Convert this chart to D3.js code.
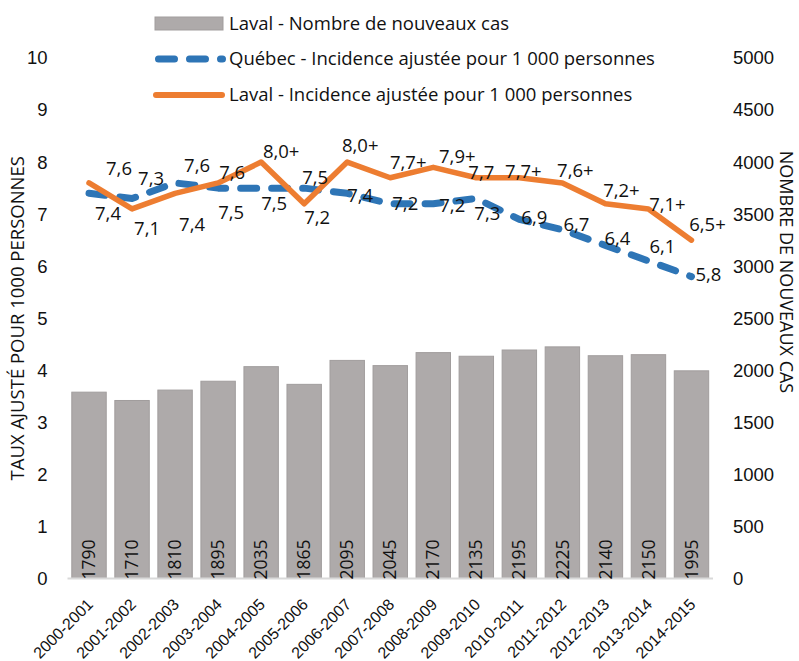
<!DOCTYPE html>
<html>
<head>
<meta charset="utf-8">
<script src="https://cdn.jsdelivr.net/npm/d3@7"></script>
<style>
  body { margin: 0; background: #fff; }
  svg { display: block; font-family: "Open Sans", "Noto Sans", sans-serif; }
  .tick text, .lbl, .title, .legend text { fill: #111; font-size: 18.5px; }
  .x-axis .tick text { font-size: 16px; }
  .bar-lbl { fill: #111; font-size: 17.5px; }
  .title.right { font-size: 18px; }
</style>
</head>
<body>
<div id="chart"></div>
<script>
// Laval new cases (bars, right axis) + adjusted incidence rates (lines, left axis)

const periods = ["2000-2001", "2001-2002", "2002-2003", "2003-2004", "2004-2005", "2005-2006",
  "2006-2007", "2007-2008", "2008-2009", "2009-2010", "2010-2011", "2011-2012",
  "2012-2013", "2013-2014", "2014-2015"];
const lavalCases = [1790, 1710, 1810, 1895, 2035, 1865, 2095, 2045, 2170, 2135, 2195, 2225, 2140, 2150, 1995];
const quebecRate = [7.4, 7.3, 7.6, 7.5, 7.5, 7.5, 7.4, 7.2, 7.2, 7.3, 6.9, 6.7, 6.4, 6.1, 5.8];
const lavalRate = [7.6, 7.1, 7.4, 7.6, 8.0, 7.2, 8.0, 7.7, 7.9, 7.7, 7.7, 7.6, 7.2, 7.1, 6.5];
const lavalPlus = [false, false, false, false, true, false, true, true, true, false, true, true, true, true, true];
const rateTicks = [0, 1, 2, 3, 4, 5, 6, 7, 8, 9, 10];
const caseTicks = [0, 500, 1000, 1500, 2000, 2500, 3000, 3500, 4000, 4500, 5000];

// label nudges (px) relative to each point, as placed in the original
const quebecNudge = [[19, 20], [19, -20], [22, -17], [13, 24], [13, 15], [11, -11], [13, 2], [15, 0],
  [19, 2], [11, 15], [15, -2], [14, -5], [12, -7], [14, -14], [17, -2]];
const lavalNudge = [[30, -14], [15, 20], [17, 31], [14, -10], [20, -11], [13, 14], [13, -17], [18, -15],
  [24, -11], [5, -5], [4, -6], [13, -12], [16, -13], [19, -4], [16, -16]];

const width = 799,
  height = 661,
  margin = ({ top: 58, right: 86, bottom: 82.5, left: 67.5 });

const svg = d3.select("#chart")
  .append("svg")
  .attr("width", width)
  .attr("height", height)
  .attr("viewBox", [0, 0, width, height]);

const fmt = v => d3.format(".1f")(v).replace(".", ",");

let x = d3.scaleBand()
  .domain(periods)
  .range([margin.left, width - margin.right])
  .paddingInner(0.2)
  .paddingOuter(0.1);

let yRate = d3.scaleLinear()
  .domain([0, 10])
  .range([height - margin.bottom, margin.top]);

let yCases = d3.scaleLinear()
  .domain([0, 5000])
  .range([height - margin.bottom, margin.top]);

// bars
svg.append("g")
  .selectAll("rect")
  .data(lavalCases)
  .join("rect")
  .attr("x", (d, i) => x(periods[i]))
  .attr("y", d => yCases(d))
  .attr("width", x.bandwidth())
  .attr("height", d => yCases(0) - yCases(d))
  .attr("fill", "#AEAAAA")
  .attr("stroke", "#A19D9D")
  .attr("stroke-width", 1);

// baseline
svg.append("line")
  .attr("x1", margin.left).attr("x2", width - margin.right)
  .attr("y1", yCases(0)).attr("y2", yCases(0))
  .attr("stroke", "#D9D9D9")
  .attr("stroke-width", 2);

// bar value labels (vertical, at the base)
svg.append("g")
  .selectAll("text")
  .data(lavalCases)
  .join("text")
  .attr("class", "bar-lbl")
  .attr("transform", (d, i) => `translate(${x(periods[i]) + x.bandwidth() / 2},${yCases(0) + 1}) rotate(-90)`)
  .attr("dy", "0.35em")
  .text(d => d);

// axes
svg.append("g")
  .attr("transform", `translate(${margin.left},0)`)
  .call(d3.axisLeft(yRate).tickValues(rateTicks).tickSize(0).tickPadding(20))
  .call(g => g.select(".domain").remove());

svg.append("g")
  .attr("transform", `translate(${width - margin.right},0)`)
  .call(d3.axisRight(yCases).tickValues(caseTicks).tickFormat(d3.format("d")).tickSize(0).tickPadding(20))
  .call(g => g.select(".domain").remove());

svg.append("g")
  .attr("class", "x-axis")
  .attr("transform", `translate(0,${height - margin.bottom})`)
  .call(d3.axisBottom(x).tickSize(0).tickPadding(0))
  .call(g => g.select(".domain").remove())
  .call(g => g.selectAll("text")
    .attr("text-anchor", "end")
    .attr("y", 0)
    .attr("dy", "0.35em")
    .attr("transform", "translate(1,23) rotate(-45)"));

svg.selectAll(".tick text").attr("font-family", null).attr("font-size", null);

// axis titles
svg.append("text")
  .attr("class", "title")
  .attr("text-anchor", "middle")
  .attr("transform", `translate(18,${(margin.top + height - margin.bottom) / 2}) rotate(-90)`)
  .attr("dy", "0.35em")
  .text("TAUX AJUSTÉ POUR 1000 PERSONNES");

svg.append("text")
  .attr("class", "title right")
  .attr("text-anchor", "middle")
  .attr("transform", `translate(786,272) rotate(90)`)
  .attr("dy", "0.35em")
  .text("NOMBRE DE NOUVEAUX CAS");

// lines
let cx = i => x(periods[i]) + x.bandwidth() / 2;

let rateLine = d3.line()
  .x((d, i) => cx(i))
  .y(d => yRate(d));

svg.append("path")
  .datum(quebecRate)
  .attr("d", rateLine)
  .attr("fill", "none")
  .attr("stroke", "#2E75B6")
  .attr("stroke-width", 7)
  .attr("stroke-linecap", "round")
  .attr("stroke-linejoin", "round")
  .attr("stroke-dasharray", "16 15");

svg.append("path")
  .datum(lavalRate)
  .attr("d", rateLine)
  .attr("fill", "none")
  .attr("stroke", "#ED7D31")
  .attr("stroke-width", 5.5)
  .attr("stroke-linecap", "round")
  .attr("stroke-linejoin", "round");

// line labels
svg.append("g")
  .selectAll("text")
  .data(quebecRate)
  .join("text")
  .attr("class", "lbl")
  .attr("text-anchor", "middle")
  .attr("x", (d, i) => cx(i) + quebecNudge[i][0])
  .attr("y", (d, i) => yRate(d) + quebecNudge[i][1])
  .attr("dy", "0.35em")
  .text(d => fmt(d));

svg.append("g")
  .selectAll("text")
  .data(lavalRate)
  .join("text")
  .attr("class", "lbl")
  .attr("text-anchor", "middle")
  .attr("x", (d, i) => cx(i) + lavalNudge[i][0])
  .attr("y", (d, i) => yRate(d) + lavalNudge[i][1])
  .attr("dy", "0.35em")
  .text((d, i) => fmt(d) + (lavalPlus[i] ? "+" : ""));

// legend
const legend = svg.append("g").attr("class", "legend");
const legendRows = [
  "Laval - Nombre de nouveaux cas",
  "Québec - Incidence ajustée pour 1 000 personnes",
  "Laval - Incidence ajustée pour 1 000 personnes"
];
const rowY = [23.5, 59, 95];

legend.append("rect")
  .attr("x", 155).attr("y", rowY[0] - 6.5)
  .attr("width", 68).attr("height", 13)
  .attr("fill", "#AEAAAA").attr("stroke", "#A19D9D");

legend.append("line")
  .attr("x1", 158.5).attr("x2", 222.5)
  .attr("y1", rowY[1]).attr("y2", rowY[1])
  .attr("stroke", "#2E75B6").attr("stroke-width", 7)
  .attr("stroke-linecap", "round").attr("stroke-dasharray", "16 15");

legend.append("line")
  .attr("x1", 156).attr("x2", 222)
  .attr("y1", rowY[2]).attr("y2", rowY[2])
  .attr("stroke", "#ED7D31").attr("stroke-width", 6)
  .attr("stroke-linecap", "round");

legend.selectAll("text")
  .data(legendRows)
  .join("text")
  .attr("x", 229)
  .attr("y", (d, i) => rowY[i])
  .attr("dy", "0.35em")
  .text(d => d);
</script>
</body>
</html>
